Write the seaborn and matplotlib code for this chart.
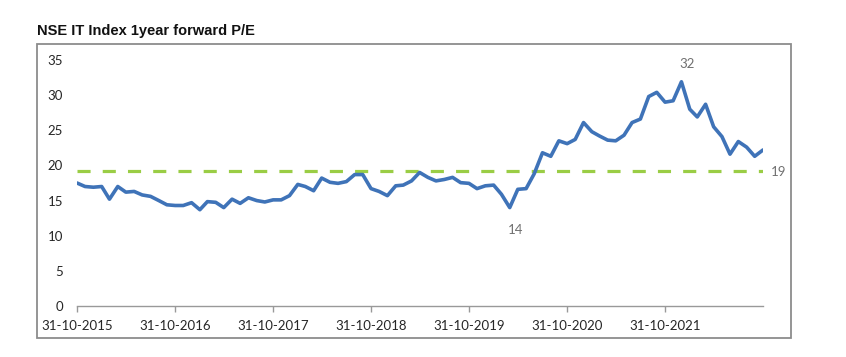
import pandas as pd
import seaborn as sns
import matplotlib.pyplot as plt
from matplotlib.patches import Rectangle

# monthly 1yr forward P/E, Oct-2015 .. Oct-2022
pe = [17.5, 17.0, 16.9, 17.0, 15.2, 17.0, 16.2, 16.3, 15.8, 15.6,
      15.0, 14.4, 14.3, 14.3, 14.7, 13.7, 14.85, 14.75, 14.0, 15.2,
      14.6, 15.4, 15.0, 14.8, 15.1, 15.1, 15.7, 17.3, 17.0, 16.4,
      18.2, 17.6, 17.45, 17.7, 18.7, 18.7, 16.7, 16.3, 15.7, 17.1,
      17.2, 17.8, 19.0, 18.3, 17.8, 18.0, 18.3, 17.55, 17.45, 16.7,
      17.1, 17.2, 15.9, 14.0, 16.6, 16.7, 18.8, 21.8, 21.3, 23.5,
      23.1, 23.7, 26.1, 24.8, 24.2, 23.6, 23.5, 24.3, 26.1, 26.6,
      29.8, 30.4, 29.0, 29.2, 31.9, 28.0, 26.9, 28.7, 25.5, 24.1,
      21.6, 23.4, 22.6, 21.3, 22.2]
pe_avg = 19.2
start_date = '2015-10-31'
tick_years = [2015, 2016, 2017, 2018, 2019, 2020, 2021]
tick_labels = ['31-10-2015', '31-10-2016', '31-10-2017', '31-10-2018',
               '31-10-2019', '31-10-2020', '31-10-2021']
yticks = [0, 5, 10, 15, 20, 25, 30, 35]
# points carrying a data label in the original
high_idx = 74
low_idx = 53

dates = pd.date_range(start_date, periods=len(pe), freq='ME')
df = pd.DataFrame({'date': dates, 'pe': pe, 'avg': [pe_avg] * len(pe)})

sns.set_style('white')
plt.rcParams['font.family'] = ['Lato', 'DejaVu Sans']

W, H = 846, 357
fig = plt.figure(figsize=(W / 100, H / 100), dpi=100)
ax = fig.add_axes([77 / W, 1 - 306 / H, (763 - 77) / W, (306 - 60) / H])

sns.lineplot(data=df, x='date', y='avg', ax=ax, color='#9ACD45', lw=2.3,
             linestyle=(0, (4.1, 3.8)))
sns.lineplot(data=df, x='date', y='pe', ax=ax, color='#3F73B8', lw=2.6)

ax.set_xlim(dates[0], dates[-1])
ax.set_ylim(0, 35)
ax.set_yticks(yticks)
ax.set_xticks([pd.Timestamp(f'{y}-10-31') for y in tick_years])
ax.set_xticklabels(tick_labels)
ax.set_xlabel('')
ax.set_ylabel('')

for s in ['top', 'right', 'left']:
    ax.spines[s].set_visible(False)
ax.spines['bottom'].set_color('#999999')
ax.spines['bottom'].set_linewidth(1.0)
ax.tick_params(axis='y', length=0, pad=10, labelsize=9.5, labelcolor='#262626')
ax.tick_params(axis='x', length=4, width=1, color='#999999', pad=6,
               labelsize=9.5, labelcolor='#262626', direction='out', bottom=True)

# data labels
ax.annotate(f'{pe[high_idx]:.0f}', (dates[high_idx], pe[high_idx]), xytext=(4, 13),
            textcoords='offset points', ha='center', va='center',
            fontsize=9.5, color='#707070')
ax.annotate(f'{pe[low_idx]:.0f}', (dates[low_idx], pe[low_idx]), xytext=(4, -16),
            textcoords='offset points', ha='center', va='center',
            fontsize=9.5, color='#707070')
ax.annotate(f'{pe_avg:.0f}', (dates[-1], pe_avg), xytext=(11, -1),
            textcoords='offset points', ha='center', va='center',
            fontsize=9.5, color='#707070', annotation_clip=False)

# chart area border and title
fig.patches.append(Rectangle((37 / W, 1 - 338 / H), (791 - 37) / W, (338 - 44) / H,
                             transform=fig.transFigure, fill=False,
                             edgecolor='#8c8c8c', lw=1.3))
fig.text(37 / W, 1 - 31 / H, 'NSE IT Index 1year forward P/E', ha='left', va='center',
         fontsize=10.5, fontweight='bold', family=['Liberation Sans', 'DejaVu Sans'],
         color='#111111')

fig.savefig('out.png', dpi=100)
